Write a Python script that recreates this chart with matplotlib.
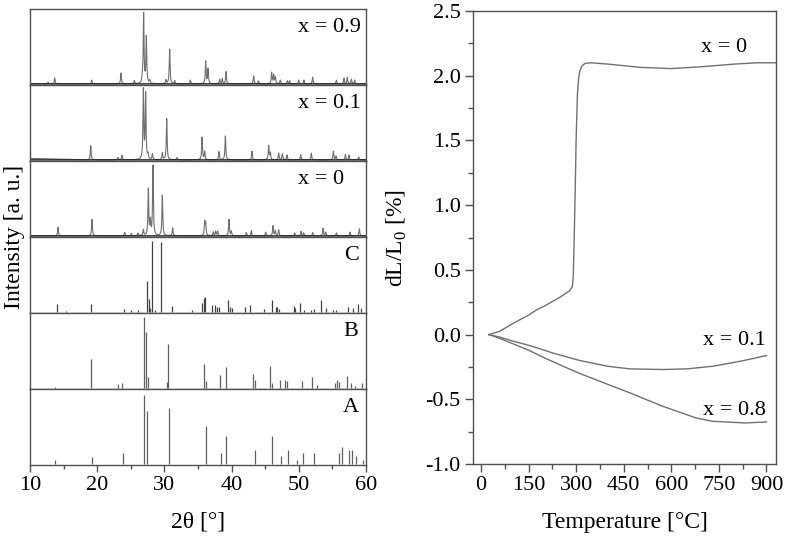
import numpy as np
import matplotlib
matplotlib.use('Agg')
import matplotlib.pyplot as plt
from matplotlib.ticker import MultipleLocator
import matplotlib.transforms as mtrans

plt.rcParams['font.family'] = ['Liberation Serif', 'DejaVu Serif']
plt.rcParams['mathtext.fontset'] = 'custom'
plt.rcParams['mathtext.rm'] = 'Liberation Serif'

FS = 16
FL = 17
frame = '#505050'
lc = '#606060'

########################################################################################################################
# XRD panels, top to bottom: peak position (2theta) and relative height
xrd_labels = ['x = 0.9', 'x = 0.1', 'x = 0', 'C', 'B', 'A']
xrd_measured = [True, True, True, False, False, False]

pos_x09 = [12.68, 13.67, 19.18, 23.54, 25.53, 26.72, 26.91, 27.31, 27.81, 30.24, 30.78, 31.53, 33.86, 36.14,
           36.49, 38.22, 38.61, 39.17, 43.28, 43.98, 45.96, 46.26, 46.51, 47.25, 48.29, 48.64, 49.98, 50.77,
           52.06, 55.59, 56.73, 57.22, 57.82, 58.31]
int_x09 = [0.02, 0.08, 0.05, 0.145, 0.04, 0.06, 0.93, 0.62, 0.04, 0.05, 0.465, 0.04, 0.05, 0.30,
           0.20, 0.06, 0.07, 0.165, 0.105, 0.04, 0.15, 0.115, 0.085, 0.05, 0.04, 0.04, 0.05, 0.05,
           0.09, 0.05, 0.075, 0.085, 0.06, 0.05]

pos_x01 = [19.03, 23.10, 23.69, 26.87, 27.21, 27.56, 28.21, 29.69, 30.34, 31.88, 35.60, 35.99, 38.12, 39.07,
           43.04, 45.52, 45.76, 47.00, 47.55, 48.24, 50.28, 51.86, 55.14, 55.54, 56.93, 57.47, 58.91]
int_x01 = [0.19, 0.03, 0.06, 0.93, 0.87, 0.06, 0.075, 0.09, 0.55, 0.03, 0.30, 0.11, 0.11, 0.32,
           0.115, 0.19, 0.09, 0.09, 0.08, 0.065, 0.07, 0.09, 0.115, 0.05, 0.07, 0.065, 0.04]
# low-angle background of x = 0.1
bg_x01_pos = [10.0, 12.0, 14.0, 16.0, 18.0, 60.0]
bg_x01_val = [0.02, 0.016, 0.012, 0.006, 0.0, 0.0]

pos_x0 = [14.17, 19.23, 24.09, 25.08, 26.07, 26.87, 27.61, 27.91, 28.30, 29.69, 31.23, 35.99, 36.14, 37.28,
          37.63, 37.93, 39.61, 39.96, 42.19, 42.94, 45.07, 46.16, 46.51, 47.00, 49.38, 50.33, 50.72, 52.06,
          53.60, 54.00, 55.59, 57.62, 59.01]
int_x0 = [0.115, 0.22, 0.045, 0.03, 0.035, 0.08, 0.62, 0.19, 0.93, 0.54, 0.105, 0.18, 0.16, 0.05,
          0.06, 0.06, 0.22, 0.06, 0.045, 0.07, 0.05, 0.135, 0.07, 0.08, 0.04, 0.06, 0.04, 0.045,
          0.10, 0.05, 0.04, 0.05, 0.095]

pos_C = [14.07, 15.31, 19.13, 24.04, 25.03, 26.02, 27.46, 27.76, 27.91, 28.21, 28.55, 29.54, 31.08, 34.06,
         35.65, 35.84, 35.99, 37.07, 37.48, 37.83, 38.08, 39.42, 39.71, 40.01, 41.94, 42.79, 44.82, 45.96,
         46.66, 46.80, 47.00, 49.24, 49.43, 50.23, 50.77, 51.86, 52.26, 53.35, 54.00, 55.09, 55.59, 57.37,
         58.07, 58.81, 59.21]
int_C = [0.105, 0.01, 0.11, 0.045, 0.03, 0.03, 0.41, 0.17, 0.05, 0.95, 0.03, 0.93, 0.08, 0.02,
         0.115, 0.19, 0.20, 0.09, 0.09, 0.06, 0.06, 0.155, 0.065, 0.05, 0.06, 0.09, 0.04, 0.16,
         0.07, 0.06, 0.04, 0.075, 0.05, 0.115, 0.03, 0.03, 0.04, 0.16, 0.05, 0.03, 0.03, 0.06,
         0.05, 0.11, 0.05]

pos_B = [13.67, 19.13, 23.15, 23.64, 26.91, 27.31, 27.56, 30.39, 30.49, 35.84, 36.24, 38.27, 39.12, 43.18,
         43.43, 45.76, 46.06, 47.15, 47.90, 48.24, 50.48, 51.96, 52.66, 55.39, 55.74, 56.03, 57.17, 57.77,
         58.31, 59.36]
int_B = [0.01, 0.38, 0.05, 0.06, 0.95, 0.75, 0.14, 0.08, 0.59, 0.32, 0.09, 0.17, 0.28, 0.18,
         0.10, 0.29, 0.06, 0.105, 0.10, 0.09, 0.09, 0.14, 0.04, 0.07, 0.105, 0.075, 0.16, 0.07,
         0.03, 0.06]

pos_A = [13.67, 19.28, 23.79, 27.01, 27.46, 30.63, 36.19, 38.42, 39.17, 43.48, 46.06, 47.30, 48.39, 49.73,
         50.67, 52.21, 56.03, 56.38, 57.52, 57.87, 58.56, 59.55]
int_A = [0.05, 0.09, 0.145, 0.925, 0.70, 0.74, 0.51, 0.145, 0.37, 0.19, 0.37, 0.10, 0.19, 0.05,
         0.145, 0.145, 0.145, 0.23, 0.19, 0.19, 0.10, 0.05]

xrd_pos = [pos_x09, pos_x01, pos_x0, pos_C, pos_B, pos_A]
xrd_int = [int_x09, int_x01, int_x0, int_C, int_B, int_A]

########################################################################################################################
# dilatometry: temperature [C] and dL/L0 [%]
T_x0 = [25, 60, 100, 150, 175, 200, 250, 280, 288, 291, 294, 297, 300, 304, 308, 312, 318, 328, 345, 400, 500,
        600, 700, 800, 870, 928]
dL_x0 = [0.0, 0.026, 0.085, 0.15, 0.19, 0.22, 0.29, 0.34, 0.37, 0.45, 0.75, 1.1, 1.5, 1.85, 1.98, 2.04, 2.075,
         2.095, 2.10, 2.09, 2.065, 2.055, 2.07, 2.09, 2.10, 2.10]
T_x01 = [25, 60, 100, 154, 230, 311, 400, 469, 573, 650, 730, 820, 900]
dL_x01 = [0.0, -0.02, -0.05, -0.085, -0.145, -0.2, -0.245, -0.265, -0.27, -0.265, -0.245, -0.205, -0.162]
T_x08 = [25, 60, 100, 154, 196, 250, 311, 400, 469, 573, 678, 730, 835, 900]
dL_x08 = [0.0, -0.03, -0.07, -0.125, -0.175, -0.235, -0.30, -0.385, -0.45, -0.554, -0.644, -0.67, -0.683, -0.675]

dil_T = [T_x0, T_x01, T_x08]
dil_dL = [dL_x0, dL_x01, dL_x08]
dil_labels = ['x = 0', 'x = 0.1', 'x = 0.8']
dil_label_xy = [(840, 2.22), (898, -0.045), (898, -0.585)]


########################################################################################################################
def style_frame(ax):
    for s in ax.spines.values():
        s.set_color(frame)
        s.set_linewidth(1.0)


def profile(tt, pos, hgt, width=0.07):
    # lorentzian line shape around each read peak
    y = np.zeros_like(tt)
    for p, h in zip(pos, hgt):
        y += h * width ** 2 / ((tt - p) ** 2 + width ** 2)
    return y


fig = plt.figure(figsize=(7.87, 5.38), dpi=100)

left, right, top, bottom = 30 / 787, 366 / 787, 1 - 9 / 538, 1 - 465 / 538
ph = (top - bottom) / 6
tt = np.linspace(10, 60, 6001)
axes = []
for i in range(6):
    ax = fig.add_axes([left, top - (i + 1) * ph, right - left, ph])
    if xrd_measured[i]:
        y = profile(tt, xrd_pos[i], xrd_int[i])
        if i == 1:
            y = y + np.interp(tt, bg_x01_pos, bg_x01_val)
        ax.plot(tt, y, color='#707070', lw=0.8)
        ax.plot(tt, np.zeros_like(tt), color='#202020', lw=1.0)
    else:
        ax.vlines(xrd_pos[i], 0, xrd_int[i], color=lc if i != 3 else '#404040', lw=0.9)
    ax.set_xlim(10, 60)
    ax.set_ylim(-0.015, 1.0)
    ax.set_yticks([])
    trans = mtrans.blended_transform_factory(ax.transData, ax.transAxes)
    lx = 56.8 if xrd_labels[i] == 'x = 0' else (59.3 if xrd_labels[i].startswith('x') else 58.9)
    ax.text(lx, 0.75, xrd_labels[i], transform=trans, ha='right', va='center', fontsize=FS)
    style_frame(ax)
    if i < 5:
        ax.set_xticks([])
    else:
        ax.xaxis.set_major_locator(MultipleLocator(10))
        ax.xaxis.set_minor_locator(MultipleLocator(5))
        ax.tick_params(axis='x', which='major', direction='out', length=5, width=1, color=frame,
                       labelsize=FS, pad=3)
        ax.tick_params(axis='x', which='minor', direction='out', length=3, width=1, color=frame)
        ax.set_xlabel('2θ [°]', fontsize=FL, labelpad=12)
    axes.append(ax)

fig.text(15 / 787, 1 - 237 / 538, 'Intensity [a. u.]', rotation=90, ha='center', va='center', fontsize=FL)

########################################################################################################################
ax2 = fig.add_axes([473 / 787, 1 - 464 / 538, (776 - 473) / 787, (464 - 11) / 538])
for T, d in zip(dil_T, dil_dL):
    ax2.plot(T, d, color='#707070', lw=1.0)
for lab, (tx, ty) in zip(dil_labels, dil_label_xy):
    ax2.text(tx, ty, lab, ha='right', va='center', fontsize=FS)
ax2.set_xlim(-25, 930)
ax2.set_ylim(-1.0, 2.5)
ax2.xaxis.set_major_locator(MultipleLocator(150))
ax2.xaxis.set_minor_locator(MultipleLocator(75))
ax2.yaxis.set_major_locator(MultipleLocator(0.5))
ax2.yaxis.set_minor_locator(MultipleLocator(0.25))
ax2.yaxis.set_major_formatter(plt.FuncFormatter(lambda v, p: f'{v:.1f}'))
ax2.tick_params(which='major', direction='out', length=6, width=1, color=frame, labelsize=FS, pad=3)
ax2.tick_params(which='minor', direction='out', length=3.5, width=1, color=frame)
style_frame(ax2)
ax2.set_xlabel('Temperature [°C]', fontsize=FL, labelpad=12)
ax2.set_ylabel(r'dL/L$_\mathregular{0}$ [%]', fontsize=FL, labelpad=12)

plt.savefig('out.png', dpi=100)
